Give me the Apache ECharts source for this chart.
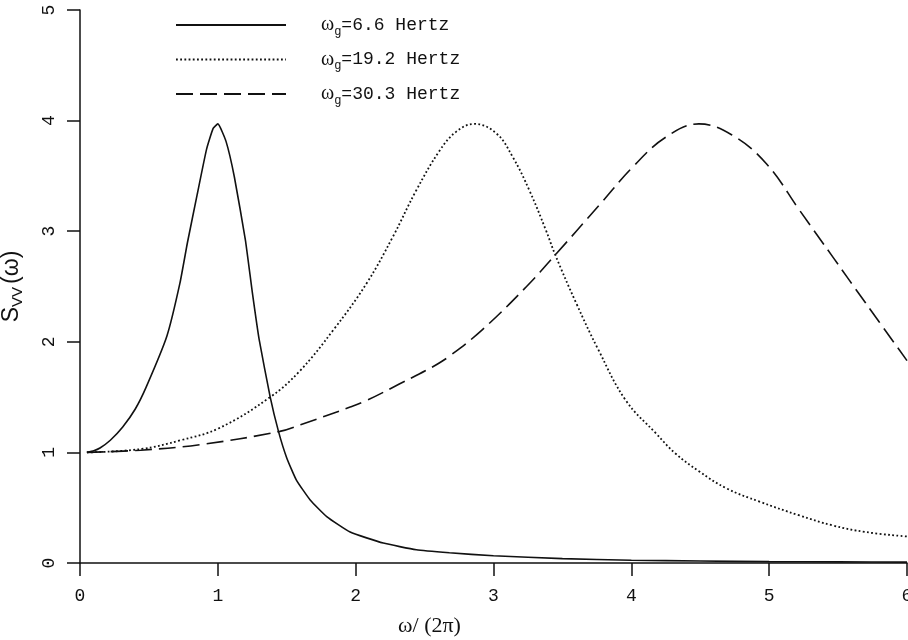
<!DOCTYPE html>
<html>
<head>
<meta charset="utf-8">
<script src="https://cdn.jsdelivr.net/npm/echarts@6/dist/echarts.min.js"></script>
<style>html,body{margin:0;padding:0;background:#fff}#c{width:908px;height:640px}</style>
</head>
<body>
<div id="c"></div>
<script>
// ---- data ----
const seriesNames = ['6.6', '19.2', '30.3'];

const solidX = [0.05,0.1,0.145,0.22,0.31,0.4,0.48,0.63,0.725,0.78,0.85,0.918,0.966,1.0,1.06,1.12,1.2,1.25,1.3,1.38,1.44,1.5,1.57,1.67,1.79,1.96,2.2,2.44,2.68,3.0,3.5,4.0,4.5,5.0,5.5,6.0];
const solidY = [1.0,1.015,1.04,1.11,1.23,1.39,1.59,2.05,2.53,2.9,3.33,3.74,3.93,3.97,3.81,3.49,2.92,2.45,2.02,1.50,1.19,0.95,0.75,0.57,0.42,0.28,0.18,0.12,0.093,0.065,0.04,0.025,0.018,0.012,0.01,0.008];

const dottedX = [0.05,0.44,0.73,1.01,1.38,1.59,1.84,2.08,2.27,2.44,2.61,2.73,2.86,3.02,3.14,3.26,3.38,3.45,3.6,3.76,3.96,4.18,4.32,4.49,4.69,4.93,5.22,5.46,5.7,6.0];
const dottedY = [1.0,1.03,1.11,1.22,1.50,1.73,2.11,2.53,2.95,3.37,3.73,3.90,3.97,3.885,3.67,3.37,3.01,2.78,2.35,1.93,1.47,1.17,0.99,0.83,0.675,0.555,0.43,0.34,0.28,0.24];

const dashedX = [0.05,0.44,0.87,1.45,1.6,1.96,2.08,2.32,2.56,2.68,2.92,3.24,3.43,3.77,4.01,4.25,4.49,4.73,4.98,5.22,5.46,5.7,6.0];
const dashedY = [1.0,1.02,1.07,1.19,1.25,1.41,1.47,1.62,1.775,1.87,2.11,2.50,2.76,3.24,3.58,3.85,3.97,3.87,3.61,3.19,2.77,2.35,1.83];

const xTicks = [0,1,2,3,4,5,6];
const yTicks = [0,1,2,3,4,5];

// ---- chart ----
const pairs = (xs, ys) => xs.map((x, i) => [x, ys[i]]);
const chart = echarts.init(document.getElementById('c'), null, {renderer: 'canvas'});
const ink = '#111';
const mono = '"Liberation Mono", "DejaVu Sans Mono", monospace';

function mk(name, xs, ys, type, smooth) {
  return {
    name: name, type: 'line', data: pairs(xs, ys), showSymbol: false, symbol: 'none',
    smooth: smooth, animation: false,
    lineStyle: {color: ink, width: type === 'dotted' ? 1.8 : 1.6,
      type: type === 'solid' ? 'solid' : (type === 'dotted' ? [1.8, 2.4] : [17, 7])},
    itemStyle: {color: ink}
  };
}

chart.setOption({
  animation: false,
  backgroundColor: '#fff',
  grid: {left: 80, top: 10, width: 827, height: 553, containLabel: false, outerBoundsMode: 'none'},
  legend: {
    orient: 'vertical', left: 170, top: 10, itemWidth: 110, itemHeight: 14, itemGap: 12,
    itemStyle: {opacity: 0},
    formatter: n => '{s|   }{w|ω}{g|g}{t|=' + n + ' Hertz}',
    textStyle: {
      color: ink, fontFamily: mono, fontSize: 18,
      rich: {
        s: {fontSize: 16, fontFamily: mono, width: 30},
        w: {fontSize: 20, fontFamily: '"Liberation Serif", serif', color: ink},
        g: {fontSize: 12, fontFamily: mono, color: ink, padding: [13, 0, 0, 0]},
        t: {fontSize: 18, fontFamily: mono, color: ink}
      }
    },
    data: seriesNames
  },
  xAxis: {
    type: 'value', min: 0, max: 6, interval: 1,
    name: 'ω/ (2π)', nameLocation: 'middle', nameGap: 52,
    nameTextStyle: {fontFamily: '"Liberation Serif", serif', fontSize: 22, color: ink, padding: [0, 128, 0, 0]},
    axisLine: {show: true, onZero: false, lineStyle: {color: ink, width: 1.5}},
    axisTick: {show: true, inside: false, length: 13, lineStyle: {color: ink, width: 1.5}},
    axisLabel: {fontFamily: mono, fontSize: 18, color: ink, margin: 24,
      formatter: v => xTicks.includes(v) ? String(v) : ''},
    splitLine: {show: false}
  },
  yAxis: {
    type: 'value', min: 0, max: 5, interval: 1,
    name: '{a|S}{b|VV}{a|(ω)}', nameLocation: 'middle', nameGap: 55, nameRotate: 90,
    nameTextStyle: {color: ink, rich: {
      a: {fontFamily: '"Liberation Sans", Arial, sans-serif', fontSize: 23, color: ink},
      b: {fontFamily: '"Liberation Sans", Arial, sans-serif', fontSize: 15, color: ink, padding: [11, 3, 0, 0]}
    }},
    axisLine: {show: true, onZero: false, lineStyle: {color: ink, width: 1.5}},
    axisTick: {show: true, inside: false, length: 13, lineStyle: {color: ink, width: 1.5}},
    axisLabel: {fontFamily: mono, fontSize: 18, color: ink, margin: 22, rotate: 90,
      formatter: v => yTicks.includes(v) ? String(v) : ''},
    splitLine: {show: false}
  },
  series: [
    mk(seriesNames[0], solidX, solidY, 'solid', 0.15),
    mk(seriesNames[1], dottedX, dottedY, 'dotted', 0.4),
    mk(seriesNames[2], dashedX, dashedY, 'dashed', 0.4)
  ]
});
</script>
</body>
</html>
